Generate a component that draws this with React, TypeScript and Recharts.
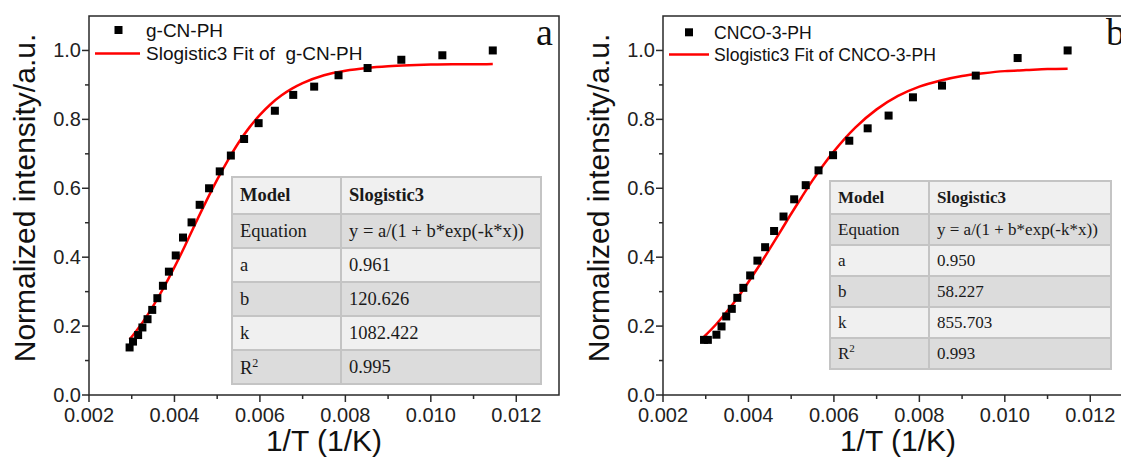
import React from 'react';
import { ComposedChart, Scatter, Line, XAxis, YAxis, ReferenceArea } from 'recharts';

// panel a — g-CN-PH, measured points
const xA = [0.00295, 0.00303, 0.00315, 0.00325, 0.00337, 0.00348, 0.0036, 0.00373, 0.00387, 0.00403, 0.0042, 0.0044, 0.00459,
  0.00481, 0.00506, 0.00532, 0.00563, 0.00597, 0.00635, 0.00678, 0.00727, 0.00784, 0.00852, 0.00931, 0.01027, 0.01145];
const yA = [0.138, 0.155, 0.174, 0.196, 0.22, 0.247, 0.281, 0.317, 0.358, 0.405, 0.457, 0.501, 0.552,
  0.6, 0.649, 0.695, 0.743, 0.789, 0.825, 0.871, 0.895, 0.928, 0.949, 0.973, 0.986, 1.0];
// panel a — fitted curve
const fitXA = [0.00295, 0.00325, 0.0035, 0.00375, 0.004, 0.00425, 0.0045, 0.00475, 0.005, 0.00525, 0.0055, 0.00575, 0.006,
  0.00625, 0.0065, 0.00675, 0.007, 0.0075, 0.008, 0.0085, 0.009, 0.0095, 0.01, 0.0105, 0.011, 0.01145];
const fitYA = [0.161, 0.21, 0.258, 0.312, 0.371, 0.434, 0.5, 0.564, 0.625, 0.681, 0.732, 0.776, 0.813,
  0.844, 0.869, 0.889, 0.905, 0.928, 0.941, 0.949, 0.954, 0.957, 0.959, 0.96, 0.96, 0.961];

// panel b — CNCO-3-PH, measured points
const xB = [0.00296, 0.00305, 0.00325, 0.00337, 0.00348, 0.00361, 0.00374, 0.00388, 0.00404, 0.00421, 0.00439, 0.0046, 0.00482,
  0.00507, 0.00534, 0.00564, 0.00598, 0.00636, 0.00679, 0.00728, 0.00785, 0.00853, 0.00932, 0.0103, 0.01147];
const yB = [0.16, 0.16, 0.175, 0.199, 0.228, 0.25, 0.282, 0.311, 0.347, 0.39, 0.429, 0.476, 0.518,
  0.568, 0.609, 0.652, 0.696, 0.738, 0.774, 0.811, 0.864, 0.898, 0.927, 0.978, 1.0];
// panel b — fitted curve
const fitXB = [0.00296, 0.00325, 0.0035, 0.00375, 0.004, 0.00425, 0.0045, 0.00475, 0.005, 0.00525, 0.0055, 0.00575, 0.006,
  0.0065, 0.007, 0.0075, 0.008, 0.0085, 0.009, 0.0095, 0.01, 0.0105, 0.011, 0.01147];
const fitYB = [0.169, 0.206, 0.243, 0.283, 0.328, 0.375, 0.425, 0.475, 0.526, 0.575, 0.623, 0.667, 0.707,
  0.776, 0.829, 0.868, 0.895, 0.913, 0.926, 0.934, 0.94, 0.943, 0.946, 0.947];

const xTicks = [0.002, 0.003, 0.004, 0.005, 0.006, 0.007, 0.008, 0.009, 0.01, 0.011, 0.012];
const yTicks = [0, 0.1, 0.2, 0.3, 0.4, 0.5, 0.6, 0.7, 0.8, 0.9, 1.0];

const tableRows = ['Model', 'Equation', 'a', 'b', 'k', 'R2'];
const tableA = ['Slogistic3', 'y = a/(1 + b*exp(-k*x))', '0.961', '120.626', '1082.422', '0.995'];
const tableB = ['Slogistic3', 'y = a/(1 + b*exp(-k*x))', '0.950', '58.227', '855.703', '0.993'];

const SANS = 'Arial, "Liberation Sans", sans-serif';
const SERIF = '"Times New Roman", "Liberation Serif", serif';
const AXIS = '#2a2a2a';
const RED = '#ff0000';

function XTick(props: any) {
  const { x, y, payload } = props;
  const v = payload.value;
  const major = Math.round(v * 1000) % 2 === 0;
  return (
    <g>
      <line x1={x} y1={y} x2={x} y2={y + (major ? 7 : 4)} stroke={AXIS} strokeWidth={1.5} />
      {major && (
        <text x={x} y={y + 27} textAnchor="middle" fontSize={20} fill="#222" fontFamily={SANS}>
          {v.toFixed(3)}
        </text>
      )}
    </g>
  );
}

function YTick(props: any) {
  const { x, y, payload } = props;
  const v = payload.value;
  const major = Math.round(v * 10) % 2 === 0;
  return (
    <g>
      <line x1={x - (major ? 7 : 4)} y1={y} x2={x} y2={y} stroke={AXIS} strokeWidth={1.5} />
      {major && (
        <text x={x - 8} y={y + 7} textAnchor="end" fontSize={20} fill="#222" fontFamily={SANS}>
          {v.toFixed(1)}
        </text>
      )}
    </g>
  );
}

const square = (p: any) => <rect x={p.cx - 4} y={p.cy - 4} width={8} height={8} fill="#000" />;

function FitTable({ values, left, top, width, col1, rowH, fontSize }: any) {
  return (
    <table
      style={{
        position: 'absolute', left, top, width, borderCollapse: 'collapse', fontFamily: SERIF,
        fontSize, color: '#1a1a1a', tableLayout: 'fixed',
      }}
    >
      <tbody>
        {tableRows.map((r, i) => (
          <tr key={r} style={{ height: rowH[i], background: i % 2 === 0 ? '#f0f0f0' : '#dcdcdc' }}>
            <td style={{ width: col1, border: '2px solid #c4c4c4', padding: '0 0 0 7px', fontWeight: i === 0 ? 'bold' : 'normal' }}>
              {r === 'R2' ? <span>R<sup style={{ fontSize: '0.65em' }}>2</sup></span> : r}
            </td>
            <td style={{ border: '2px solid #c4c4c4', padding: '0 0 0 7px', fontWeight: i === 0 ? 'bold' : 'normal', whiteSpace: 'nowrap' }}>
              {values[i]}
            </td>
          </tr>
        ))}
      </tbody>
    </table>
  );
}

function Panel({ xs, ys, fx, fy }: any) {
  const pts = xs.map((x: number, i: number) => ({ x, y: ys[i] }));
  const fit = fx.map((x: number, i: number) => ({ x, y: fy[i] }));
  return (
    <ComposedChart width={573} height={461} margin={{ top: 16, right: 14, bottom: 0, left: 0 }}>
      <XAxis
        type="number" dataKey="x" domain={[0.002, 0.013]} ticks={xTicks} interval={0}
        height={66} tickSize={0} tickMargin={0} tick={<XTick />} axisLine={false} tickLine={false}
        allowDataOverflow
      />
      <YAxis
        type="number" dataKey="y" domain={[0, 1.1]} ticks={yTicks} interval={0}
        width={89} tickSize={0} tickMargin={0} tick={<YTick />} axisLine={false} tickLine={false}
        allowDataOverflow
      />
      <ReferenceArea x1={0.002} x2={0.013} y1={0} y2={1.1} fill="none" stroke={AXIS} strokeWidth={1.5} ifOverflow="visible" />
      <Line data={fit} dataKey="y" type="monotone" stroke={RED} strokeWidth={2.5} dot={false} isAnimationActive={false} />
      <Scatter data={pts} dataKey="y" shape={square} isAnimationActive={false} />
    </ComposedChart>
  );
}

export default function App() {
  return (
    <div style={{ position: 'absolute', left: 0, top: 0, width: 1121, height: 461, overflow: 'hidden', background: '#fff' }}>
      <div style={{ position: 'absolute', left: 0, top: 0 }}>
        <Panel xs={xA} ys={yA} fx={fitXA} fy={fitYA} />
      </div>
      <div style={{ position: 'absolute', left: 574, top: 0 }}>
        <Panel xs={xB} ys={yB} fx={fitXB} fy={fitYB} />
      </div>

      <svg width={1121} height={461} style={{ position: 'absolute', left: 0, top: 0, pointerEvents: 'none' }}>
        {/* axis titles */}
        <text x={324} y={451} textAnchor="middle" fontSize={30} fontFamily={SANS} fill="#111">1/T (1/K)</text>
        <text x={898} y={451} textAnchor="middle" fontSize={30} fontFamily={SANS} fill="#111">1/T (1/K)</text>
        <text transform="translate(35,198) rotate(-90)" textAnchor="middle" fontSize={30} fontFamily={SANS} fill="#111">
          Normalized intensity/a.u.
        </text>
        <text transform="translate(609,198) rotate(-90)" textAnchor="middle" fontSize={30} fontFamily={SANS} fill="#111">
          Normalized intensity/a.u.
        </text>

        {/* legend a */}
        <rect x={114.5} y={26} width={8} height={8} fill="#000" />
        <text x={146} y={37} fontSize={19} fontFamily={SANS} fill="#111">g-CN-PH</text>
        <line x1={95} y1={53.5} x2={140} y2={53.5} stroke={RED} strokeWidth={2.5} />
        <text x={146} y={60.3} fontSize={19} fontFamily={SANS} fill="#111" style={{ whiteSpace: 'pre' }}>
          {'Slogistic3 Fit of  g-CN-PH'}
        </text>

        {/* legend b */}
        <rect x={685} y={28.3} width={8} height={8} fill="#000" />
        <text x={714} y={38.5} fontSize={17.6} fontFamily={SANS} fill="#111">CNCO-3-PH</text>
        <line x1={669} y1={54.5} x2={709} y2={54.5} stroke={RED} strokeWidth={2.5} />
        <text x={714} y={60.8} fontSize={17.6} fontFamily={SANS} fill="#111">Slogistic3 Fit of CNCO-3-PH</text>

        {/* panel letters */}
        <text x={536} y={45} fontSize={38} fontFamily={SERIF} fill="#111">a</text>
        <text x={1106} y={45} fontSize={38} fontFamily={SERIF} fill="#111">b</text>
      </svg>

      <FitTable values={tableA} left={231} top={176} width={311} col1={100} rowH={[37, 34, 34, 34, 34, 34]} fontSize={18.5} />
      <FitTable values={tableB} left={829} top={180} width={283} col1={90} rowH={[33, 31, 31, 31, 31, 31]} fontSize={17} />
    </div>
  );
}
